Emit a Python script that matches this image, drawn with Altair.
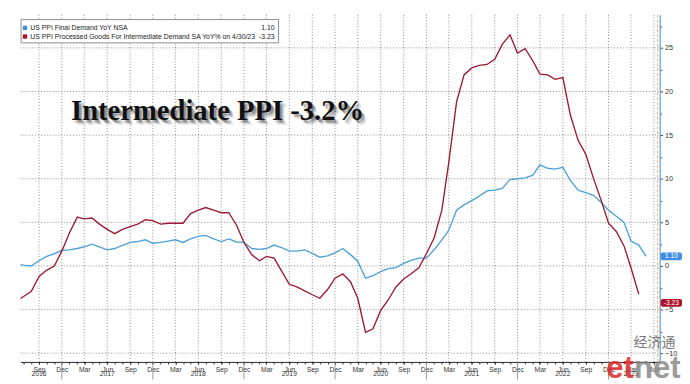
import altair as alt
import pandas as pd

# ---------------- data ----------------
months = pd.date_range("2016-05-01", "2023-05-01", freq="MS").strftime("%Y-%m-%d").tolist()

ppi_final_demand = [
    0.1, 0.25, 0.1, 0.0, 0.6, 1.1, 1.4, 1.8,                      # May-Dec 2016
    1.85, 2.0, 2.2, 2.5, 2.2, 1.85, 2.0, 2.35, 2.7, 2.8, 3.0, 2.6,  # 2017
    2.7, 2.85, 3.0, 2.7, 3.1, 3.4, 3.5, 3.1, 2.8, 3.1, 2.75, 2.7,  # 2018
    2.0, 1.9, 2.0, 2.4, 2.1, 1.7, 1.7, 1.85, 1.45, 1.0, 1.15, 1.5,  # 2019
    2.0, 1.3, 0.55, -1.4, -1.1, -0.65, -0.3, -0.2, 0.3, 0.65, 0.9, 0.9,  # 2020
    1.85, 3.0, 4.1, 6.4, 7.0, 7.5, 8.0, 8.6, 8.7, 8.9, 9.9, 10.0,  # 2021
    10.1, 10.4, 11.6, 11.2, 11.1, 11.3, 9.8, 8.7, 8.4, 8.1, 7.3, 6.4,  # 2022
    5.7, 5.0, 2.85, 2.4, 1.1,                                       # Jan-May 2023
]
ppi_intermediate = [
    -4.3, -4.0, -3.5, -2.9, -1.2, -0.5, 0.0, 1.7,                   # May-Dec 2016
    3.8, 5.6, 5.4, 5.5, 4.8, 4.2, 3.7, 4.2, 4.5, 4.8, 5.3, 5.2,     # 2017
    4.8, 4.9, 4.9, 4.9, 6.0, 6.4, 6.7, 6.4, 6.1, 6.1, 4.7, 2.7,     # 2018
    1.3, 0.6, 1.1, 0.9, -0.6, -2.1, -2.4, -2.85, -3.3, -3.7, -2.7, -1.4,  # 2019
    -0.9, -1.8, -3.7, -7.6, -7.2, -5.1, -3.9, -2.4, -1.5, -0.9, -0.2, 1.4,  # 2020
    3.2, 6.4, 11.9, 18.8, 21.9, 22.7, 23.0, 23.1, 23.7, 25.4, 26.5, 24.4,  # 2021
    24.9, 23.5, 22.0, 21.9, 21.4, 21.6, 17.3, 14.4, 12.8, 10.1, 7.55, 4.9,  # 2022
    3.95, 2.3, -0.2, -3.23,                                          # Jan-Apr 2023
]

series_names = [
    "US PPI Final Demand YoY NSA",
    "US PPI Processed Goods For Intermediate Demand SA YoY% on 4/30/23",
]
last_values = [1.10, -3.23]
last_labels = ["1.10", "-3.23"]

y_tick_values = [-10, -5, 0, 5, 10, 15, 20, 25]
year_labels = ["2016", "2017", "2018", "2019", "2020", "2021", "2022", "2023"]
year_label_dates = ["2016-09-01", "2017-06-01", "2018-06-01", "2019-06-01",
                    "2020-06-01", "2021-06-01", "2022-06-01", "2023-03-01"]
year_sep_dates = ["2016-12-01", "2017-12-01", "2018-12-01", "2019-12-01",
                  "2020-12-01", "2021-12-01", "2022-12-01"]
now_date = ["2023-06-16"]
title_text = "Intermediate PPI -3.2%"

# ---------------- tables ----------------
lines_df = pd.concat([
    pd.DataFrame({"date": months, "series": series_names[0], "value": ppi_final_demand}),
    pd.DataFrame({"date": months[:len(ppi_intermediate)], "series": series_names[1], "value": ppi_intermediate}),
], ignore_index=True)
last_df = pd.DataFrame({"series": series_names, "value": last_values, "label": last_labels, "row": [0, 1]})
years_df = pd.DataFrame({"date": year_label_dates, "year": year_labels})
sep_df = pd.DataFrame({"date": year_sep_dates})
now_df = pd.DataFrame({"date": now_date})
title_df = pd.DataFrame({"t": [title_text]})
wm_df = pd.DataFrame({"cn": ["经济通"], "et": ["et"], "net": ["net"]})

# ---------------- styles ----------------
W, H = 659, 358
line_colors = ["#4ea2d9", "#9c1a36"]
tag_colors = ["#3d8fe0", "#b0102a"]
FONT = "Liberation Sans"
GRID = "#555555"

x_scale = alt.Scale(type="utc", domain=[
    alt.DateTime(year=2016, month=6, date=19, utc=True),
    alt.DateTime(year=2023, month=6, date=24, utc=True)])
y_scale = alt.Scale(domain=[-11, 28.8], nice=False, zero=False)
color_scale = alt.Scale(domain=series_names, range=line_colors)
fill_scale = alt.Scale(domain=series_names, range=tag_colors)

q_vals, m_vals, q_dates = [], [], []
for y in range(2016, 2024):
    for m in range(1, 13):
        if (y, m) < (2016, 7) or (y, m) > (2023, 6):
            continue
        m_vals.append(alt.DateTime(year=y, month=m, date=1, utc=True))
        if m in (3, 6, 9, 12):
            q_vals.append(alt.DateTime(year=y, month=m, date=1, utc=True))
            q_dates.append(f"{y}-{m:02d}-01")
qgrid_df = pd.DataFrame({"date": q_dates})
hgrid_df = pd.DataFrame({"v": y_tick_values})

x_axis = alt.Axis(orient="bottom", values=q_vals, labelExpr="utcFormat(datum.value, '%b')",
                  grid=False, domainColor="#222", tickColor="#222", tickSize=2, labelFontSize=7,
                  labelColor="#333", labelFont=FONT, labelPadding=2, labelFlush=False,
                  labelOverlap=False, title=None)
y_axis = alt.Axis(orient="right", values=y_tick_values, grid=False, domainColor="#5b9bd5",
                  domainWidth=1.2, tickColor="#444", tickSize=3, labelFontSize=7.5,
                  labelColor="#333", labelFont=FONT, labelPadding=2, labelFlush=False,
                  labelOverlap=False, title=None)
x_minor = alt.Axis(orient="bottom", values=m_vals, labels=False, grid=False, domain=False,
                   tickSize=2, tickColor="#222", title=None)
y_minor = alt.Axis(orient="right", values=[v + 2.5 for v in y_tick_values], labels=False,
                   grid=False, domain=False, tickSize=2, tickColor="#444", title=None)

# ---------------- layers ----------------
vgrid = alt.Chart(qgrid_df).mark_rule(color=GRID, strokeDash=[1, 2], strokeWidth=1,
                                      opacity=0.7).encode(
    x=alt.X("date:T", scale=x_scale, axis=None), y=alt.value(0), y2=alt.value(H))
hgrid = alt.Chart(hgrid_df).mark_rule(color=GRID, strokeDash=[1, 2], strokeWidth=1,
                                      opacity=0.7).encode(
    y=alt.Y("v:Q", scale=y_scale, axis=None), x=alt.value(0), x2=alt.value(W))

now_rule = alt.Chart(now_df).mark_rule(color="#f0a868", strokeDash=[3, 2], strokeWidth=1).encode(
    x=alt.X("date:T", scale=x_scale, axis=None), y=alt.value(0), y2=alt.value(H))

minor = alt.Chart(lines_df).mark_line(opacity=0).encode(
    x=alt.X("date:T", scale=x_scale, axis=x_minor),
    y=alt.Y("value:Q", scale=y_scale, axis=y_minor),
    detail="series:N")

lines = alt.Chart(lines_df).mark_line(strokeWidth=1.4, clip=True).encode(
    x=alt.X("date:T", scale=x_scale, axis=x_axis),
    y=alt.Y("value:Q", scale=y_scale, axis=y_axis),
    color=alt.Color("series:N", scale=color_scale, legend=None))

seps = alt.Chart(sep_df).mark_rule(color="#999", strokeWidth=1).encode(
    x=alt.X("date:T", scale=x_scale, axis=None),
    y=alt.value(H), y2=alt.value(H + 18))

years = alt.Chart(years_df).mark_text(fontSize=7, color="#333", font=FONT, baseline="middle").encode(
    x=alt.X("date:T", scale=x_scale, axis=None),
    y=alt.value(H + 13), text="year:N")

title_layers = []
for dx, dy, op in [(5, 5, 0.07), (4, 4, 0.10), (3, 3, 0.16), (2, 2, 0.20)]:
    title_layers.append(alt.Chart(title_df).mark_text(
        align="left", baseline="alphabetic", font="Liberation Serif", fontSize=29.5,
        fontWeight="bold", color="black", opacity=op, dx=dx, dy=dy).encode(
        x=alt.value(52), y=alt.value(109), text="t:N"))
title_layers.append(alt.Chart(title_df).mark_text(
    align="left", baseline="alphabetic", font="Liberation Serif", fontSize=29.5,
    fontWeight="bold", color="#111").encode(x=alt.value(52), y=alt.value(109), text="t:N"))

legend_box = alt.Chart(title_df).mark_rect(fill="white", stroke="#8a8a8a", strokeWidth=1).encode(
    x=alt.value(0.5), x2=alt.value(266), y=alt.value(5), y2=alt.value(29))
legend_layers = [legend_box]
for i in range(2):
    yrow = 13.5 + 9 * i
    base = alt.Chart(last_df).transform_filter(f"datum.row == {i}")
    legend_layers.append(base.mark_square(size=20, opacity=1).encode(
        x=alt.value(4.5), y=alt.value(yrow),
        fill=alt.Fill("series:N", scale=fill_scale, legend=None)))
    legend_layers.append(base.mark_text(align="left", baseline="middle", fontSize=7.1, font=FONT,
                                        color="#222").encode(
        x=alt.value(10), y=alt.value(yrow), text="series:N"))
    legend_layers.append(base.mark_text(align="right", baseline="middle", fontSize=7.1, font=FONT,
                                        color="#222").encode(
        x=alt.value(262), y=alt.value(yrow), text="label:N"))

tags_base = alt.Chart(last_df).transform_calculate(
    mid="datum.value + (datum.value < 0 ? -1.0 : 0)").transform_calculate(
    top="datum.mid + 0.45", bot="datum.mid - 0.45")
tags = tags_base.mark_rect(cornerRadius=2).encode(
    x=alt.value(660), x2=alt.value(682),
    y=alt.Y("top:Q", scale=y_scale, axis=None), y2="bot:Q",
    fill=alt.Fill("series:N", scale=fill_scale, legend=None))
tag_text = tags_base.mark_text(color="white", fontSize=7, font=FONT, align="center",
                               baseline="middle").encode(
    x=alt.value(671), y=alt.Y("mid:Q", scale=y_scale, axis=None), text="label:N")

wm_cn = alt.Chart(wm_df).mark_text(font="Noto Sans CJK SC", fontSize=14.5, color="#777",
                                   align="left", baseline="middle").encode(
    x=alt.value(632), y=alt.value(339), text="cn:N")
wm_et = alt.Chart(wm_df).mark_text(font=FONT, fontWeight="bold", fontSize=32, color="#e02a2a",
                                   opacity=0.85, align="left", baseline="alphabetic").encode(
    x=alt.value(604), y=alt.value(375), text="et:N")
wm_net = alt.Chart(wm_df).mark_text(font=FONT, fontWeight="bold", fontSize=32, color="#8a8a8a",
                                    opacity=0.85, align="left", baseline="alphabetic").encode(
    x=alt.value(632.5), y=alt.value(375), text="net:N")

chart = alt.layer(
    vgrid, hgrid, now_rule, minor, lines, seps, years, *title_layers, *legend_layers,
    tags, tag_text, wm_cn, wm_et, wm_net
).resolve_axis(x="independent", y="independent").properties(
    width=W, height=H, padding=0, background="white"
).configure_view(strokeWidth=0)

chart.save("out.html", embed_options={"renderer": "svg", "actions": False})
